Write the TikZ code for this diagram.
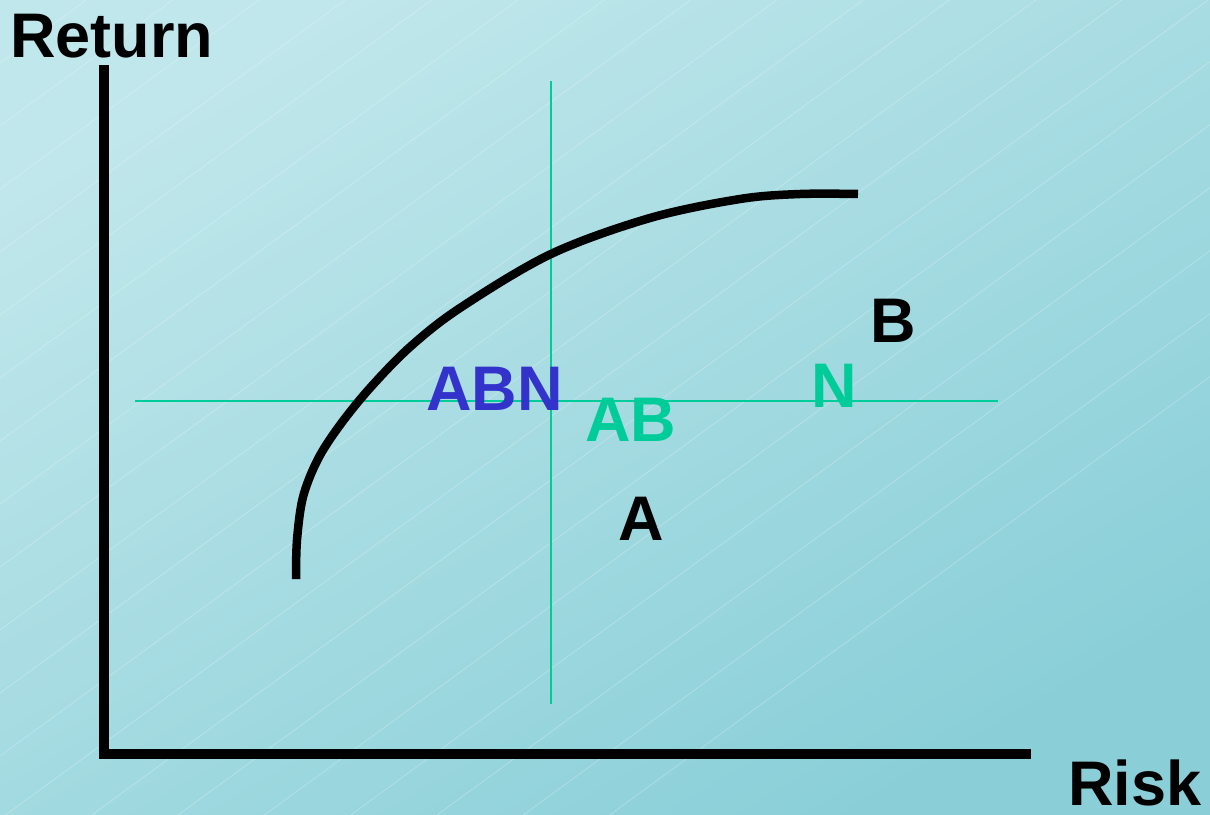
\documentclass[tikz,border=0pt]{standalone}
\usepackage{fontspec}
\setmainfont{Liberation Sans}
\begin{document}
\begin{tikzpicture}[x=1pt,y=-1pt,
  lbl/.style={font=\fontsize{63}{63}\selectfont\bfseries, inner sep=0pt, anchor=base west},
  axisline/.style={line width=10pt, black},
  guide/.style={line width=1.6pt, draw=guidegreen},
  curveline/.style={line width=8.5pt, black, line join=round}]
\definecolor{bgtl}{HTML}{C0E7EB}
\definecolor{bgbr}{HTML}{8ACFD8}
\definecolor{guidegreen}{HTML}{00CC99}
\definecolor{abnblue}{HTML}{3333CC}
\useasboundingbox (0,0) rectangle (1210,814);
\shade[top color=bgtl, bottom color=bgbr, shading angle=30] (0,0) rectangle (1210,814);
\begin{scope}
\clip (0,0) rectangle (1210,814);
\foreach \k in {-20,...,20} {
  \draw[white, opacity=0.3, line width=0.6pt] (0,{\k*63}) -- ++(1300,{-1300*0.73});
}
\end{scope}
% guides
\coordinate (vt) at (551,81);
\coordinate (vb) at (551,704);
\coordinate (hl) at (135,401);
\coordinate (hr) at (998,401);
\draw[guide] (vt) -- (vb);
\draw[guide] (hl) -- (hr);
% axes
\coordinate (ytop) at (104,65);
\coordinate (ybot) at (104,749);
\coordinate (xstart) at (99,754);
\coordinate (xend) at (1031,754);
\draw[axisline] (ytop) -- (ybot);
\draw[axisline] (xstart) -- (xend);
% curve
\draw[curveline] plot[smooth, tension=0.55] coordinates {(296,579) (297,540) (303,497) (318,459) (340,425) (370,388) (410,347) (460,308) (551,254) (650,218) (740,199) (800,194) (858,194)};
% labels
\node[lbl] (ret) at (10,57) {Return};
\node[lbl] (risk) at (1068,805) {Risk};
\node[lbl, text=abnblue] (abn) at (426,410) {ABN};
\node[lbl, text=guidegreen] (ab) at (585,441) {AB};
\node[lbl] (a) at (618,540) {A};
\node[lbl] (b) at (870,342) {B};
\node[lbl, text=guidegreen] (n) at (811,407) {N};
\end{tikzpicture}
\end{document}
